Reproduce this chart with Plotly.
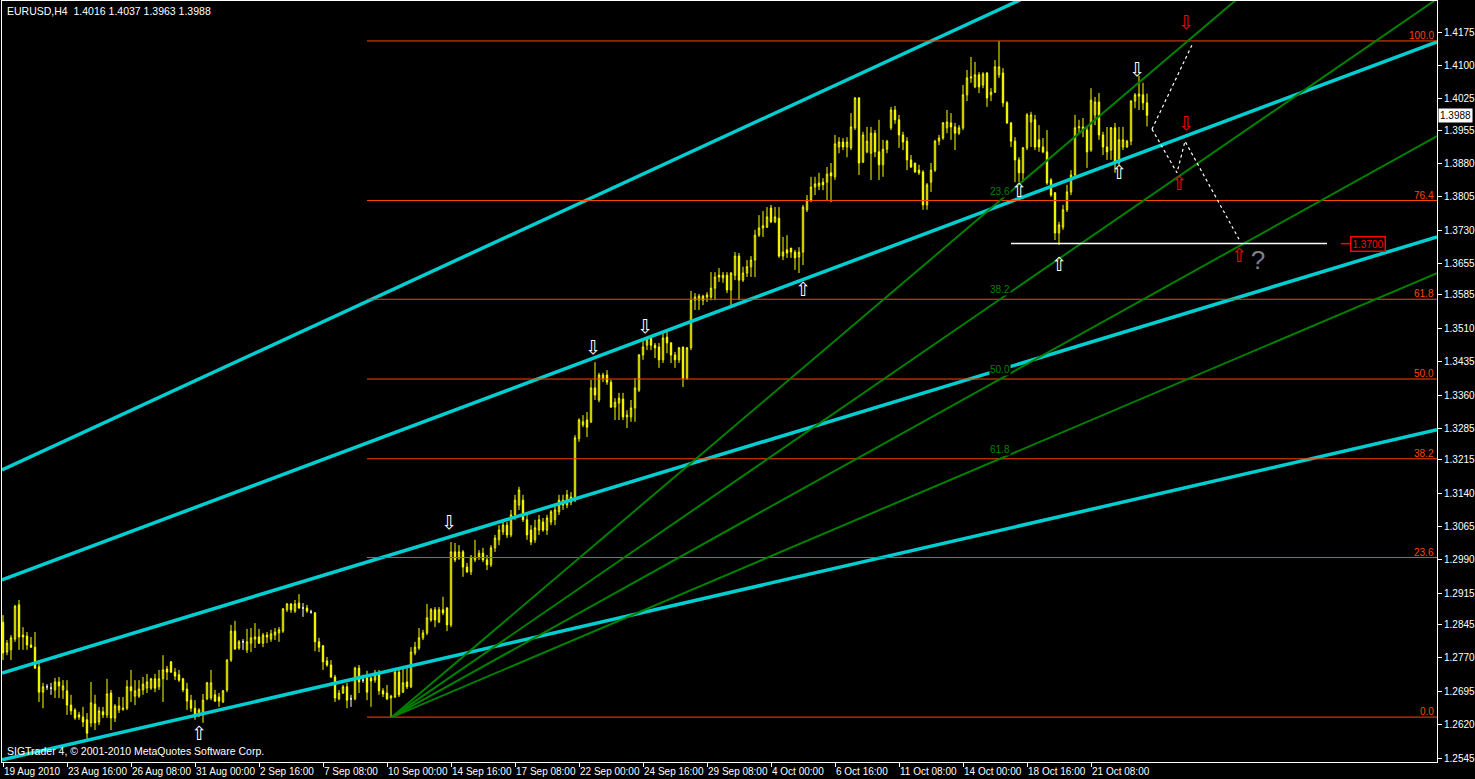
import plotly.graph_objects as go

# ---------------- candle data (EURUSD H4) ----------------
open_ = [1.2850,1.2783,1.2788,1.2812,1.2889,1.2821,1.2819,1.2799,1.2794,1.2750,
1.2693,1.2705,1.2702,1.2698,1.2716,1.2698,1.2696,1.2664,1.2653,1.2642,
1.2637,1.2631,1.2624,1.2666,1.2626,1.2649,1.2642,1.2691,1.2635,1.2653,
1.2657,1.2657,1.2705,1.2684,1.2684,1.2698,1.2702,1.2702,1.2723,1.2705,
1.2723,1.2745,1.2761,1.2738,1.2732,1.2723,1.2700,1.2675,1.2657,1.2642,
1.2642,1.2678,1.2680,1.2687,1.2682,1.2671,1.2698,1.2765,1.2830,1.2792,
1.2806,1.2788,1.2803,1.2812,1.2817,1.2803,1.2821,1.2812,1.2821,1.2826,
1.2830,1.2878,1.2891,1.2875,1.2893,1.2882,1.2882,1.2873,1.2871,1.2806,
1.2797,1.2763,1.2754,1.2727,1.2678,1.2691,1.2705,1.2678,1.2678,1.2747,
1.2720,1.2725,1.2725,1.2720,1.2736,1.2696,1.2691,1.2680,1.2682,1.2738,
1.2693,1.2716,1.2705,1.2781,1.2792,1.2815,1.2826,1.2855,1.2878,1.2851,
1.2878,1.2882,1.2844,1.3008,1.2994,1.3008,1.2974,1.2963,1.2990,1.2996,
1.3005,1.2990,1.2979,1.3017,1.3035,1.3053,1.3068,1.3046,1.3091,1.3113,
1.3124,1.3080,1.3057,1.3035,1.3057,1.3075,1.3057,1.3075,1.3080,1.3098,
1.3124,1.3113,1.3131,1.3124,1.3262,1.3293,1.3304,1.3300,1.3376,1.3349,
1.3398,1.3405,1.3389,1.3333,1.3342,1.3351,1.3311,1.3311,1.3331,1.3371,
1.3450,1.3472,1.3488,1.3472,1.3468,1.3439,1.3490,1.3477,1.3450,1.3439,
1.3468,1.3398,1.3466,1.3573,1.3573,1.3582,1.3580,1.3580,1.3600,1.3629,
1.3623,1.3629,1.3596,1.3629,1.3672,1.3618,1.3634,1.3648,1.3663,1.3719,
1.3735,1.3737,1.3780,1.3749,1.3757,1.3672,1.3686,1.3690,1.3681,1.3670,
1.3681,1.3776,1.3798,1.3827,1.3829,1.3838,1.3838,1.3859,1.3850,1.3917,
1.3928,1.3917,1.3915,1.3960,1.4027,1.3883,1.3906,1.3903,1.3948,1.3906,
1.3877,1.3912,1.3960,1.4000,1.3978,1.3944,1.3930,1.3888,1.3881,1.3865,
1.3861,1.3787,1.3838,1.3865,1.3930,1.3937,1.3960,1.3971,1.3962,1.3948,
1.3960,1.4034,1.4072,1.4052,1.4079,1.4056,1.4083,1.4034,1.4040,1.4079,
1.4083,1.4016,1.3971,1.3930,1.3888,1.3859,1.3915,1.3973,1.3978,1.3933,
1.3917,1.3906,1.3843,1.3814,1.3724,1.3737,1.3776,1.3816,1.3854,1.3960,
1.3955,1.3955,1.3910,1.3989,1.4018,1.3944,1.3917,1.3910,1.3960,1.3881,
1.3917,1.3917,1.3930,1.4020,1.4031,1.4034,1.4016]
high = [1.2866,1.2810,1.2821,1.2889,1.2900,1.2839,1.2828,1.2817,1.2828,1.2765,
1.2714,1.2711,1.2714,1.2725,1.2727,1.2720,1.2720,1.2687,1.2657,1.2649,
1.2660,1.2646,1.2716,1.2687,1.2660,1.2660,1.2723,1.2698,1.2666,1.2682,
1.2682,1.2720,1.2743,1.2720,1.2720,1.2727,1.2734,1.2725,1.2734,1.2743,
1.2776,1.2752,1.2763,1.2747,1.2743,1.2725,1.2714,1.2687,1.2675,1.2657,
1.2689,1.2716,1.2743,1.2698,1.2691,1.2698,1.2767,1.2844,1.2853,1.2810,
1.2812,1.2835,1.2837,1.2848,1.2835,1.2826,1.2828,1.2833,1.2837,1.2839,
1.2882,1.2893,1.2893,1.2900,1.2913,1.2893,1.2889,1.2878,1.2873,1.2815,
1.2799,1.2772,1.2765,1.2732,1.2698,1.2709,1.2714,1.2687,1.2750,1.2754,
1.2732,1.2741,1.2727,1.2743,1.2743,1.2702,1.2709,1.2687,1.2743,1.2743,
1.2747,1.2747,1.2794,1.2806,1.2837,1.2833,1.2891,1.2882,1.2884,1.2884,
1.2907,1.2884,1.3030,1.3028,1.3023,1.3012,1.2983,1.3001,1.3035,1.3012,
1.3017,1.3001,1.3023,1.3046,1.3068,1.3080,1.3075,1.3102,1.3136,1.3154,
1.3136,1.3091,1.3068,1.3080,1.3091,1.3084,1.3091,1.3102,1.3113,1.3136,
1.3136,1.3147,1.3142,1.3270,1.3308,1.3315,1.3322,1.3394,1.3434,1.3410,
1.3410,1.3416,1.3394,1.3353,1.3365,1.3365,1.3326,1.3349,1.3398,1.3452,
1.3484,1.3490,1.3490,1.3477,1.3477,1.3499,1.3502,1.3479,1.3457,1.3468,
1.3468,1.3468,1.3594,1.3589,1.3587,1.3585,1.3591,1.3636,1.3636,1.3645,
1.3636,1.3636,1.3636,1.3681,1.3679,1.3648,1.3663,1.3672,1.3731,1.3764,
1.3773,1.3782,1.3787,1.3782,1.3782,1.3715,1.3719,1.3690,1.3686,1.3692,
1.3787,1.3809,1.3850,1.3850,1.3859,1.3847,1.3872,1.3881,1.3944,1.3939,
1.3937,1.3939,1.3993,1.4029,1.4029,1.3951,1.3962,1.3962,1.3955,1.3978,
1.3933,1.3933,1.4007,1.4009,1.3989,1.3951,1.3939,1.3899,1.3881,1.3877,
1.3865,1.3836,1.3881,1.3933,1.3944,1.3973,1.4000,1.3993,1.3971,1.3966,
1.4056,1.4090,1.4119,1.4108,1.4085,1.4085,1.4085,1.4049,1.4112,1.4155,
1.4094,1.4020,1.3973,1.3939,1.3894,1.3917,1.3993,1.3996,1.3989,1.3966,
1.3937,1.3955,1.3847,1.3816,1.3749,1.3787,1.3832,1.3865,1.3989,1.3978,
1.3982,1.3962,1.4049,1.4029,1.4038,1.3951,1.3962,1.3962,1.3971,1.3962,
1.3962,1.3933,1.4022,1.4038,1.4076,1.4061,1.4037]
low = [1.2765,1.2776,1.2765,1.2806,1.2788,1.2788,1.2788,1.2792,1.2745,1.2671,
1.2657,1.2698,1.2687,1.2680,1.2680,1.2678,1.2642,1.2642,1.2631,1.2631,
1.2615,1.2581,1.2615,1.2608,1.2619,1.2635,1.2635,1.2608,1.2626,1.2646,
1.2651,1.2653,1.2671,1.2664,1.2680,1.2687,1.2691,1.2698,1.2693,1.2698,
1.2671,1.2720,1.2736,1.2720,1.2716,1.2693,1.2653,1.2649,1.2631,1.2637,
1.2624,1.2675,1.2675,1.2671,1.2660,1.2669,1.2693,1.2761,1.2788,1.2788,
1.2788,1.2781,1.2783,1.2792,1.2801,1.2794,1.2803,1.2806,1.2810,1.2806,
1.2826,1.2873,1.2871,1.2871,1.2880,1.2862,1.2871,1.2869,1.2785,1.2783,
1.2743,1.2750,1.2725,1.2671,1.2675,1.2689,1.2657,1.2660,1.2675,1.2691,
1.2714,1.2675,1.2660,1.2714,1.2687,1.2682,1.2675,1.2637,1.2680,1.2682,
1.2691,1.2700,1.2702,1.2776,1.2788,1.2810,1.2821,1.2851,1.2839,1.2848,
1.2866,1.2830,1.2839,1.2985,1.2990,1.2952,1.2961,1.2956,1.2985,1.2990,
1.2985,1.2967,1.2974,1.3008,1.3023,1.3046,1.3039,1.3041,1.3080,1.3102,
1.3075,1.3035,1.3023,1.3028,1.3046,1.3053,1.3046,1.3068,1.3068,1.3091,
1.3102,1.3106,1.3113,1.3120,1.3255,1.3288,1.3266,1.3297,1.3349,1.3344,
1.3389,1.3383,1.3331,1.3304,1.3304,1.3304,1.3286,1.3300,1.3300,1.3367,
1.3439,1.3461,1.3461,1.3443,1.3421,1.3432,1.3454,1.3432,1.3421,1.3432,
1.3378,1.3394,1.3461,1.3551,1.3551,1.3562,1.3569,1.3573,1.3573,1.3614,
1.3612,1.3589,1.3558,1.3618,1.3573,1.3614,1.3625,1.3625,1.3625,1.3715,
1.3715,1.3735,1.3746,1.3746,1.3668,1.3663,1.3668,1.3668,1.3641,1.3634,
1.3652,1.3771,1.3793,1.3809,1.3820,1.3820,1.3798,1.3793,1.3843,1.3903,
1.3910,1.3894,1.3910,1.3955,1.3854,1.3881,1.3903,1.3843,1.3894,1.3843,
1.3850,1.3903,1.3955,1.3969,1.3915,1.3910,1.3865,1.3870,1.3859,1.3854,
1.3776,1.3776,1.3816,1.3861,1.3921,1.3933,1.3948,1.3933,1.3910,1.3944,
1.3955,1.4020,1.4061,1.4049,1.4038,1.4049,1.4007,1.4020,1.4038,1.4072,
1.4007,1.3969,1.3917,1.3838,1.3838,1.3838,1.3910,1.3917,1.3910,1.3906,
1.3903,1.3832,1.3805,1.3708,1.3697,1.3731,1.3771,1.3809,1.3847,1.3948,
1.3939,1.3870,1.3906,1.3966,1.3933,1.3899,1.3888,1.3888,1.3859,1.3877,
1.3910,1.3915,1.3921,1.4004,1.4000,1.4000,1.3963]
close = [1.2781,1.2803,1.2815,1.2886,1.2817,1.2817,1.2799,1.2794,1.2747,1.2693,
1.2705,1.2705,1.2702,1.2716,1.2707,1.2707,1.2664,1.2651,1.2635,1.2637,
1.2626,1.2601,1.2669,1.2624,1.2651,1.2642,1.2689,1.2635,1.2662,1.2662,
1.2655,1.2705,1.2696,1.2696,1.2700,1.2711,1.2716,1.2723,1.2702,1.2723,
1.2743,1.2738,1.2738,1.2729,1.2720,1.2698,1.2673,1.2657,1.2642,1.2653,
1.2675,1.2714,1.2714,1.2673,1.2673,1.2696,1.2765,1.2830,1.2790,1.2806,
1.2806,1.2806,1.2815,1.2817,1.2803,1.2821,1.2817,1.2824,1.2828,1.2833,
1.2880,1.2891,1.2878,1.2891,1.2882,1.2882,1.2875,1.2873,1.2806,1.2794,
1.2761,1.2754,1.2727,1.2680,1.2691,1.2705,1.2675,1.2678,1.2747,1.2716,
1.2720,1.2693,1.2718,1.2736,1.2696,1.2689,1.2678,1.2684,1.2738,1.2687,
1.2714,1.2705,1.2783,1.2794,1.2815,1.2826,1.2860,1.2878,1.2855,1.2878,
1.2871,1.2844,1.3008,1.2990,1.3008,1.2974,1.2963,1.2996,1.2996,1.3005,
1.2990,1.2979,1.3017,1.3039,1.3057,1.3068,1.3046,1.3091,1.3124,1.3147,
1.3080,1.3046,1.3030,1.3062,1.3080,1.3057,1.3084,1.3098,1.3102,1.3124,
1.3113,1.3136,1.3120,1.3264,1.3304,1.3300,1.3288,1.3376,1.3360,1.3405,
1.3405,1.3389,1.3333,1.3344,1.3353,1.3311,1.3315,1.3331,1.3376,1.3450,
1.3468,1.3488,1.3472,1.3466,1.3439,1.3488,1.3477,1.3450,1.3439,1.3466,
1.3398,1.3466,1.3573,1.3580,1.3582,1.3573,1.3585,1.3600,1.3625,1.3625,
1.3629,1.3596,1.3634,1.3672,1.3618,1.3634,1.3648,1.3663,1.3719,1.3735,
1.3740,1.3760,1.3749,1.3760,1.3672,1.3681,1.3679,1.3681,1.3668,1.3681,
1.3782,1.3798,1.3827,1.3834,1.3836,1.3832,1.3856,1.3852,1.3924,1.3928,
1.3917,1.3928,1.3962,1.4027,1.3881,1.3944,1.3930,1.3948,1.3906,1.3877,
1.3912,1.3930,1.4000,1.3978,1.3944,1.3928,1.3888,1.3872,1.3861,1.3859,
1.3787,1.3832,1.3865,1.3930,1.3937,1.3971,1.3973,1.3962,1.3948,1.3960,
1.4034,1.4072,1.4074,1.4079,1.4052,1.4081,1.4027,1.4040,1.4097,1.4097,
1.4016,1.3971,1.3930,1.3888,1.3859,1.3915,1.3989,1.3989,1.3917,1.3917,
1.3906,1.3836,1.3809,1.3724,1.3742,1.3776,1.3816,1.3854,1.3960,1.3962,
1.3962,1.3906,1.4022,1.4018,1.3944,1.3917,1.3906,1.3960,1.3881,1.3933,
1.3933,1.3930,1.4020,1.4034,1.4036,1.4016,1.3988]

x_tick_labels = ["19 Aug 2010", "23 Aug 16:00", "26 Aug 08:00", "31 Aug 00:00",
                 "2 Sep 16:00", "7 Sep 08:00", "10 Sep 00:00", "14 Sep 16:00",
                 "17 Sep 08:00", "22 Sep 00:00", "24 Sep 16:00", "29 Sep 08:00",
                 "4 Oct 00:00", "6 Oct 16:00", "11 Oct 08:00", "14 Oct 00:00",
                 "18 Oct 16:00", "21 Oct 08:00"]
x_tick_bars = [0, 16, 32, 48, 64, 80, 96, 112, 128, 144, 160, 176, 192, 208, 224, 240, 256, 272]
y_tick_labels = ["1.4175", "1.4100", "1.4025", "1.3955", "1.3880", "1.3805", "1.3730",
                 "1.3655", "1.3585", "1.3510", "1.3435", "1.3360", "1.3285", "1.3215",
                 "1.3140", "1.3065", "1.2990", "1.2915", "1.2845", "1.2770", "1.2695",
                 "1.2620", "1.2545"]

title_text = "EURUSD,H4  1.4016 1.4037 1.3963 1.3988"
copyright_text = "SIGTrader 4, © 2001-2010 MetaQuotes Software Corp."

# channel / speed lines (bar, price, bar, price)
cyan_lines = [(-0.25, 1.3192, 254.25, 1.4247),
              (-0.25, 1.2945, 358.5, 1.4153),
              (-0.25, 1.2736, 358.5, 1.3715),
              (-0.25, 1.2541, 358.5, 1.3282)]

# Fibonacci retracement
fib_low, fib_high = 1.2637, 1.4155
fib_start_bar = 91
fib_levels = [0.0, 23.6, 38.2, 50.0, 61.8, 76.4, 100.0]
# Fibonacci fan
fan_origin = (97.25, 1.2637)
fan_end_bar = 249.25
fan_levels = [23.6, 38.2, 50.0, 61.8]

support_price = 1.3700
support_bars = (252, 331)

zig_a_bars, zig_a_prices = [287.25, 297.25], [1.3957, 1.4146]
zig_b_bars, zig_b_prices = [287.25, 293.5, 295.5, 309.0], [1.3957, 1.3859, 1.3930, 1.3710]

white_arrow_bars = [49, 111.5, 147.5, 160.5, 200, 254, 264, 279, 283.5]
white_arrow_prices = [1.2597, 1.3071, 1.3463, 1.3511, 1.3594, 1.3816, 1.3650, 1.3856, 1.4088]
white_arrow_dirs = ["up", "down", "down", "down", "up", "up", "up", "up", "down"]
red_arrow_bars = [295.75, 295.75, 294, 309]
red_arrow_prices = [1.4193, 1.3966, 1.3832, 1.3670]
red_arrow_dirs = ["down", "down", "up", "up"]

X_RANGE = [-0.25, 358.5]
Y_RANGE = [1.25362, 1.42447]

YELLOW = "#FFFF00"
CYAN = "#00CED1"
ORANGE = "#FF4500"
GREEN = "#008000"
FONT = "Liberation Sans"

fig = go.Figure()

# lines first (candles on top)
for b1, p1, b2, p2 in cyan_lines:
    fig.add_trace(go.Scatter(x=[b1, b2], y=[p1, p2], mode="lines",
                             line=dict(color=CYAN, width=3.5), hoverinfo="skip"))

for lvl in fib_levels:
    pr = fib_low + lvl / 100 * (fib_high - fib_low)
    fig.add_trace(go.Scatter(x=[fib_start_bar, X_RANGE[1]], y=[pr, pr], mode="lines",
                             line=dict(color=ORANGE, width=1), hoverinfo="skip"))
    fig.add_annotation(x=X_RANGE[1] - 0.3, y=pr, xref="x", yref="y", text=f"{lvl:.1f}",
                       showarrow=False, xanchor="right", yanchor="bottom", yshift=-2,
                       font=dict(family=FONT, size=10, color=ORANGE))

b0, p0 = fan_origin
for lvl in fan_levels:
    pe = fib_high - lvl / 100 * (fib_high - fib_low)
    slope = (pe - p0) / (fan_end_bar - b0)
    fig.add_trace(go.Scatter(x=[b0, X_RANGE[1]], y=[p0, p0 + slope * (X_RANGE[1] - b0)],
                             mode="lines", line=dict(color=GREEN, width=2), hoverinfo="skip"))
    fig.add_annotation(x=fan_end_bar, y=pe, xref="x", yref="y", text=f"{lvl:.1f}",
                       showarrow=False, xanchor="center", yanchor="bottom", yshift=3,
                       bgcolor="black", borderpad=0,
                       font=dict(family=FONT, size=10, color=GREEN))

fig.add_trace(go.Scatter(x=list(support_bars), y=[support_price] * 2, mode="lines",
                         line=dict(color="white", width=1.5), hoverinfo="skip"))
fig.add_trace(go.Scatter(x=[334.5, 336.8], y=[support_price] * 2, mode="lines",
                         line=dict(color="red", width=1.5), hoverinfo="skip"))
fig.add_annotation(x=336.8, y=support_price, xref="x", yref="y", text="1.3700",
                   showarrow=False, xanchor="left", yanchor="middle",
                   bordercolor="red", borderwidth=1.5, borderpad=1, bgcolor="black",
                   font=dict(family=FONT, size=10, color="red"))

for bx, py in [(zig_a_bars, zig_a_prices), (zig_b_bars, zig_b_prices)]:
    fig.add_trace(go.Scatter(x=bx, y=py, mode="lines",
                             line=dict(color="white", width=1.2, dash="dot"), hoverinfo="skip"))

# candles
reg = [i for i in range(len(close)) if open_[i] != close[i]]
doj = [i for i in range(len(close)) if open_[i] == close[i]]
fig.add_trace(go.Candlestick(
    x=reg, open=[open_[i] for i in reg], high=[high[i] for i in reg],
    low=[low[i] for i in reg], close=[close[i] for i in reg],
    increasing=dict(line=dict(color=YELLOW, width=1), fillcolor="black"),
    decreasing=dict(line=dict(color=YELLOW, width=1), fillcolor=YELLOW),
    hoverinfo="skip"))
fig.add_trace(go.Candlestick(
    x=doj, open=[open_[i] for i in doj], high=[high[i] for i in doj],
    low=[low[i] for i in doj], close=[close[i] for i in doj],
    increasing=dict(line=dict(color="white", width=1), fillcolor="white"),
    decreasing=dict(line=dict(color="white", width=1), fillcolor="white"),
    hoverinfo="skip"))

# arrows
sym = {"up": "⇧", "down": "⇩"}
fig.add_trace(go.Scatter(x=white_arrow_bars, y=white_arrow_prices, mode="text",
                         text=[sym[d] for d in white_arrow_dirs], textposition="middle center",
                         textfont=dict(family="DejaVu Sans", size=19, color="white"),
                         hoverinfo="skip"))
fig.add_trace(go.Scatter(x=red_arrow_bars, y=red_arrow_prices, mode="text",
                         text=[sym[d] for d in red_arrow_dirs], textposition="middle center",
                         textfont=dict(family="DejaVu Sans", size=19, color="red"),
                         hoverinfo="skip"))
fig.add_trace(go.Scatter(x=[313.75], y=[1.3657], mode="text", text=["?"],
                         textposition="middle center",
                         textfont=dict(family=FONT, size=26, color="#808080"), hoverinfo="skip"))

# texts
fig.add_annotation(x=0, y=1, xref="paper", yref="paper", text=title_text, showarrow=False,
                   xanchor="left", yanchor="top", xshift=3, yshift=-2,
                   font=dict(family=FONT, size=10.5, color="white"))
fig.add_annotation(x=0, y=0, xref="paper", yref="paper", text=copyright_text, showarrow=False,
                   xanchor="left", yanchor="bottom", xshift=3, yshift=3,
                   font=dict(family=FONT, size=10.5, color="white"))
fig.add_annotation(x=1, y=close[-1], xref="paper", yref="y", text=f"{close[-1]:.4f}",
                   showarrow=False, xanchor="left", yanchor="middle", xshift=1,
                   bgcolor="white", borderpad=1,
                   font=dict(family=FONT, size=10, color="black"))

fig.update_layout(
    width=1475, height=779,
    margin=dict(l=2, r=38, t=1, b=17, autoexpand=False),
    paper_bgcolor="black", plot_bgcolor="black",
    showlegend=False, boxgap=0.5,
    xaxis=dict(range=X_RANGE, showgrid=False, zeroline=False, showline=True,
               linecolor="white", linewidth=1, mirror=True, automargin=False,
               ticks="outside", ticklen=4, tickcolor="white", tickangle=0,
               tickvals=x_tick_bars, ticktext=x_tick_labels,
               ticklabelposition="outside right",
               tickfont=dict(family=FONT, size=10, color="white"),
               rangeslider=dict(visible=False), fixedrange=True),
    yaxis=dict(range=Y_RANGE, side="right", showgrid=False, zeroline=False,
               showline=True, linecolor="white", linewidth=1, mirror=True, automargin=False,
               ticks="outside", ticklen=4, tickcolor="white",
               tickvals=[float(t) for t in y_tick_labels], ticktext=y_tick_labels,
               tickfont=dict(family=FONT, size=10, color="white"), fixedrange=True),
)

fig.write_html("out.html", config={"displayModeBar": False},
               post_script="document.body.style.margin='0';document.body.style.overflow='hidden';")
